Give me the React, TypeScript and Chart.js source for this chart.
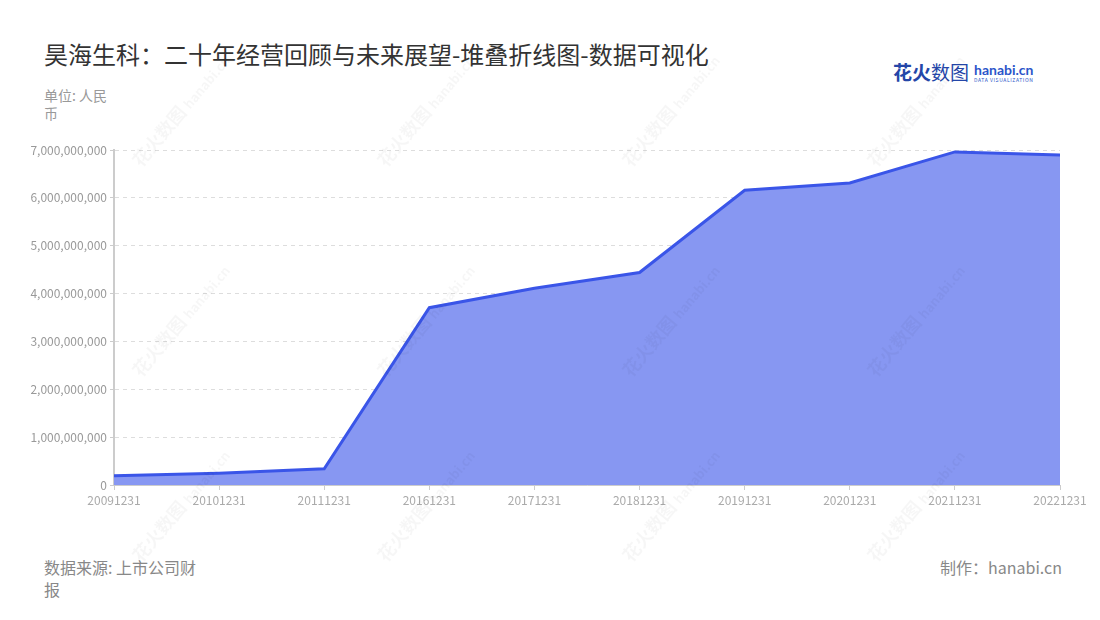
import React, { useEffect, useRef } from "react";
import { Chart, registerables } from "chart.js";

Chart.register(...registerables);

const categories = [
  "20091231", "20101231", "20111231", "20161231", "20171231",
  "20181231", "20191231", "20201231", "20211231", "20221231",
];
const revenue = [
  192000000, 245000000, 340000000, 3705000000, 4110000000,
  4440000000, 6160000000, 6310000000, 6960000000, 6895000000,
];
const yTicksMax = 7000000000;
const yTicksStep = 1000000000;

const FONT = '"Noto Sans CJK SC", "Noto Sans", sans-serif';

const watermarkSpots: Array<[number, number]> = [
  [135, 150], [380, 150], [625, 150], [870, 150],
  [135, 360], [380, 360], [625, 360], [870, 360],
  [135, 545], [380, 545], [625, 545], [870, 545],
];

export default function App() {
  const canvasRef = useRef<HTMLCanvasElement | null>(null);

  useEffect(() => {
    document.body.style.margin = "0";
    const canvas = canvasRef.current;
    if (!canvas) return;
    const chart = new Chart(canvas, {
      type: "line",
      data: {
        labels: categories,
        datasets: [
          {
            label: "营业收入",
            data: revenue,
            borderColor: "#3a55e8",
            backgroundColor: "#8797f2",
            borderWidth: 3,
            fill: "origin",
            pointRadius: 0,
            pointHoverRadius: 0,
            tension: 0,
          },
        ],
      },
      options: {
        animation: false,
        responsive: false,
        maintainAspectRatio: false,
        layout: { padding: { top: 20, right: 40, bottom: 0, left: 0 } },
        plugins: {
          legend: { display: false },
          tooltip: { enabled: false },
        },
        scales: {
          x: {
            offset: false,
            afterFit: (scale: any) => {
              scale.height = 35;
            },
            grid: {
              display: true,
              drawOnChartArea: false,
              drawTicks: true,
              tickLength: 5,
              color: "#cccccc",
            },
            border: { display: true, color: "#cccccc", width: 1 },
            ticks: {
              color: "#aaaaaa",
              font: { family: FONT, size: 12 },
              padding: 3,
              maxRotation: 0,
              minRotation: 0,
              autoSkip: false,
            },
          },
          y: {
            min: 0,
            max: yTicksMax,
            afterFit: (scale: any) => {
              scale.width = 114;
            },
            grid: {
              color: "#dddddd",
              drawTicks: true,
              tickLength: 4,
              tickColor: "#cccccc",
              lineWidth: 1,
            },
            border: { display: true, color: "#cccccc", width: 2, dash: [4, 4] },
            ticks: {
              stepSize: yTicksStep,
              color: "#999999",
              font: { family: FONT, size: 12 },
              padding: 3,
              callback: (v: any) => Number(v).toLocaleString("en-US"),
            },
          },
        },
      },
    });
    return () => chart.destroy();
  }, []);

  return (
    <div
      style={{
        position: "relative",
        width: 1100,
        height: 620,
        background: "#ffffff",
        overflow: "hidden",
        fontFamily: FONT,
      }}
    >
      {watermarkSpots.map(([x, y], i) => (
        <div
          key={i}
          style={{
            position: "absolute",
            left: x,
            top: y,
            transform: "rotate(-50deg)",
            transformOrigin: "left center",
            color: "rgba(0,0,0,0.035)",
            fontSize: 18,
            fontWeight: 700,
            whiteSpace: "nowrap",
            pointerEvents: "none",
            zIndex: 2,
          }}
        >
          花火数图 <span style={{ fontSize: 13 }}>hanabi.cn</span>
        </div>
      ))}
      <div
        style={{
          position: "absolute",
          left: 44,
          top: 38,
          fontSize: 24,
          color: "#333333",
          whiteSpace: "nowrap",
          lineHeight: "32px",
        }}
      >
        昊海生科：二十年经营回顾与未来展望-堆叠折线图-数据可视化
      </div>
      <div
        style={{
          position: "absolute",
          left: 44,
          top: 86,
          width: 68,
          fontSize: 14,
          color: "#999999",
          lineHeight: "18px",
        }}
      >
        单位: 人民币
      </div>
      <div
        style={{
          position: "absolute",
          left: 893,
          top: 60,
          display: "flex",
          alignItems: "center",
          whiteSpace: "nowrap",
        }}
      >
        <span style={{ fontSize: 19, color: "#2446a8", fontWeight: 700, lineHeight: "24px" }}>
          花火<span style={{ fontWeight: 400 }}>数图</span>
        </span>
        <span style={{ display: "flex", flexDirection: "column", marginLeft: 5 }}>
          <span style={{ fontSize: 14, color: "#2b55c9", fontWeight: 700, lineHeight: "15px", fontFamily: "Lato, sans-serif" }}>
            hanabi.cn
          </span>
          <span style={{ fontSize: 5, color: "#2b55c9", lineHeight: "6px", letterSpacing: 0.6 }}>
            DATA VISUALIZATION
          </span>
        </span>
      </div>
      <canvas
        ref={canvasRef}
        width={1100}
        height={390}
        style={{ position: "absolute", left: 0, top: 130, width: 1100, height: 390, zIndex: 1 }}
      />
      <div
        style={{
          position: "absolute",
          left: 44,
          top: 556,
          width: 160,
          fontSize: 16,
          color: "#888888",
          lineHeight: "22px",
        }}
      >
        数据来源: 上市公司财报
      </div>
      <div
        style={{
          position: "absolute",
          right: 38,
          top: 556,
          fontSize: 16,
          color: "#888888",
          lineHeight: "22px",
          whiteSpace: "nowrap",
        }}
      >
        制作：hanabi.cn
      </div>
    </div>
  );
}
